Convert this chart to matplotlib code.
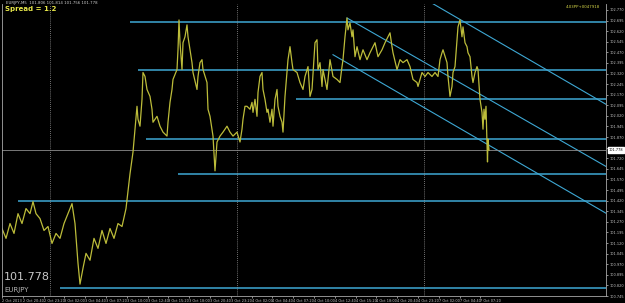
"""EURJPY M5 chart with support/resistance levels and a falling channel.
"""

import matplotlib
matplotlib.use("Agg")
import matplotlib.pyplot as plt

# close prices, by bar number
bars = [2, 6, 10, 14, 18, 22, 26, 30, 33, 36, 40, 44, 48, 52, 56, 60, 64, 68,
        72, 75, 78, 80, 83, 86, 90, 94, 98, 102, 106, 110, 114, 118, 122, 126,
        130, 133, 135, 137, 138, 140, 142, 143, 145, 147, 150, 152, 153, 157,
        160, 163, 167, 168, 170, 172, 173, 177, 178, 179, 180, 182, 183, 185,
        187, 188, 190, 192, 193, 197, 198, 200, 202, 203, 207, 208, 210, 212,
        213, 215, 217, 220, 223, 227, 230, 233, 237, 240, 242, 243, 245, 247,
        250, 252, 253, 255, 257, 258, 260, 262, 263, 265, 267, 268, 270, 272,
        273, 275, 277, 278, 280, 282, 283, 285, 287, 288, 290, 292, 293, 297,
        300, 303, 305, 308, 310, 312, 315, 317, 318, 320, 322, 323, 327, 330,
        333, 337, 340, 342, 343, 345, 347, 348, 350, 352, 353, 355, 357, 360,
        363, 367, 370, 373, 375, 378, 382, 385, 388, 390, 392, 393, 397, 400,
        403, 407, 410, 413, 417, 418, 422, 425, 428, 432, 435, 438, 440, 442,
        443, 447, 448, 450, 452, 453, 455, 457, 458, 460, 462, 463, 465, 467,
        468, 470, 472, 473, 475, 477, 478, 480, 482, 483, 484, 485, 486, 487,
        487.5, 488, 489]
close = [101.223, 101.153, 101.258, 101.188, 101.328, 101.258, 101.364, 101.328,
         101.413, 101.328, 101.293, 101.209, 101.237, 101.117, 101.188, 101.153,
         101.258, 101.328, 101.399, 101.258, 100.977, 100.829, 100.942, 101.047,
         100.998, 101.153, 101.082, 101.209, 101.117, 101.223, 101.153, 101.258,
         101.237, 101.364, 101.610, 101.764, 101.926, 102.088, 101.996, 101.947,
         102.137, 102.327, 102.299, 102.207, 102.158, 102.067, 101.975, 102.017,
         101.947, 101.905, 101.877, 101.975, 102.116, 102.207, 102.278, 102.348,
         102.488, 102.699, 102.538, 102.348, 102.538, 102.580, 102.664, 102.580,
         102.488, 102.397, 102.327, 102.207, 102.299, 102.397, 102.418, 102.348,
         102.256, 102.067, 102.017, 101.926, 101.877, 101.631, 101.835, 101.877,
         101.905, 101.947, 101.905, 101.877, 101.905, 101.835, 101.926, 101.996,
         102.088, 102.088, 102.067, 102.116, 102.045, 102.137, 102.017, 102.186,
         102.299, 102.327, 102.207, 102.137, 102.045, 102.067, 101.975, 102.067,
         101.947, 102.137, 102.207, 102.088, 102.017, 101.975, 101.905, 102.158,
         102.327, 102.418, 102.510, 102.397, 102.348, 102.327, 102.256, 102.207,
         102.299, 102.369, 102.158, 102.207, 102.538, 102.559, 102.348, 102.397,
         102.228, 102.348, 102.207, 102.418, 102.299, 102.278, 102.256, 102.369,
         102.418, 102.580, 102.713, 102.629, 102.678, 102.580, 102.629, 102.439,
         102.510, 102.418, 102.488, 102.418, 102.467, 102.510, 102.538, 102.439,
         102.488, 102.538, 102.580, 102.608, 102.510, 102.467, 102.348, 102.418,
         102.397, 102.418, 102.369, 102.278, 102.256, 102.228, 102.327, 102.299,
         102.327, 102.299, 102.327, 102.299, 102.418, 102.467, 102.488, 102.397,
         102.299, 102.158, 102.228, 102.327, 102.369, 102.559, 102.650, 102.699,
         102.580, 102.650, 102.538, 102.510, 102.467, 102.439, 102.299, 102.256,
         102.327, 102.369, 102.348, 102.137, 102.045, 101.926, 102.067, 101.996,
         102.088, 101.806, 101.694, 101.856, 101.778]

# horizontal levels: price and first bar
level_price = [102.685, 102.348, 102.137, 101.856, 101.610, 101.420, 100.801]
level_start = [130, 138, 296, 146, 178, 18, 60]

# channel trend lines: (bar0, price0, bar1, price1)
trend_x0 = [430, 347, 333]
trend_p0 = [102.826, 102.713, 102.453]
trend_x1 = [606, 606, 606]
trend_p1 = [102.102, 101.662, 101.331]

day_breaks = [50, 237, 424]
last_price = 101.778

price_ticks = [round(102.770 - 0.075 * i, 3) for i in range(28)]
time_labels = ["2 Oct 2013", "2 Oct 20:40", "2 Oct 23:20", "3 Oct 02:00",
               "3 Oct 04:40", "3 Oct 07:20", "3 Oct 10:00", "3 Oct 12:40",
               "3 Oct 15:20", "3 Oct 18:00", "3 Oct 20:40", "3 Oct 23:20",
               "4 Oct 02:00", "4 Oct 04:40", "4 Oct 07:20", "4 Oct 10:00",
               "4 Oct 12:40", "4 Oct 15:20", "4 Oct 18:00", "4 Oct 20:40",
               "4 Oct 23:20", "7 Oct 02:00", "7 Oct 04:40", "7 Oct 07:20"]
time_pos = [2 + 20.8 * i for i in range(len(time_labels))]

W, H = 625, 303
fig = plt.figure(figsize=(W / 100, H / 100), dpi=100, facecolor="black")
ax = fig.add_axes([2 / W, 1 - 296 / H, 604 / W, 292 / H], facecolor="black")

line_col = "#3ea8d4"
for p, s in zip(level_price, level_start):
    ax.plot([s, 606], [p, p], color=line_col, lw=1.1, solid_capstyle="butt")
for x0, p0, x1, p1 in zip(trend_x0, trend_p0, trend_x1, trend_p1):
    ax.plot([x0, x1], [p0, p1], color=line_col, lw=0.8)

for b in day_breaks:
    ax.axvline(b, color="#9a9a9a", lw=0.6, ls=(0, (1, 1.5)))
ax.axhline(last_price, color="#8c8c8c", lw=0.6)

ax.plot(bars, close, color="#bcbc3a", lw=0.9)

ax.set_xlim(2, 606)
ax.set_ylim(100.759, 102.812)

ax.yaxis.tick_right()
ax.set_yticks(price_ticks)
# the last-price box covers the tick next to it
ax.set_yticklabels(["" if abs(p - last_price) < 0.03 else f"{p:.3f}"
                    for p in price_ticks])
ax.set_xticks(time_pos)
ax.set_xticklabels(time_labels)
ax.tick_params(colors="#c8c8c8", labelsize=2.5, length=1.5, width=0.5, pad=0.8)
for lbl in ax.get_xticklabels():
    lbl.set_ha("left")
for sp in ax.spines.values():
    sp.set_color("#a8a8a8")
    sp.set_linewidth(0.6)
ax.spines["top"].set_visible(False)

ax.text(1.004, last_price, f"{last_price:.3f}", transform=ax.get_yaxis_transform(),
        fontsize=2.5, color="black", va="center", ha="left",
        bbox=dict(boxstyle="square,pad=0.2", fc="white", ec="white"))

fig.text(6 / W, 1 - 3 / H, "EURJPY,M5  101.806 101.814 101.756 101.778",
         color="#d0d0d0", fontsize=2.8, va="center")
fig.text(5 / W, 1 - 9 / H, "Spread = 1.2", color="#e6e64a", fontsize=5,
         fontweight="bold", va="center")
fig.text(600 / W, 1 - 7 / H, "4.03PP+0047918", color="#d8d848", fontsize=2.8,
         va="center", ha="right")
fig.text(4 / W, 1 - 277 / H, f"{last_price:.3f}", color="#c8c8c8", fontsize=8,
         va="center")
fig.text(4 / W, 1 - 290 / H, "EURJPY", color="#b4b4b4", fontsize=5, va="center")

fig.savefig("out.png", dpi=100, facecolor="black")
